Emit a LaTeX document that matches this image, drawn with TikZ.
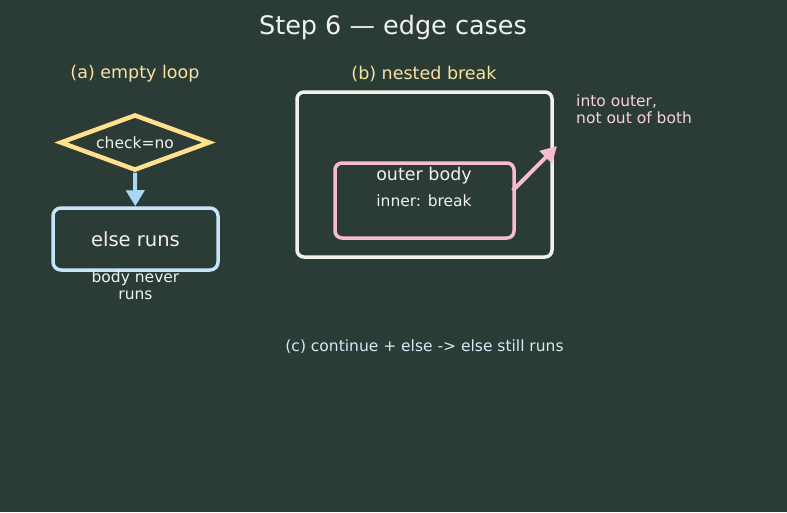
\documentclass[tikz,border=0pt]{standalone}
\usepackage{fontspec}
\setmainfont{DejaVu Sans}
\usetikzlibrary{arrows.meta,positioning,shapes.geometric}
\definecolor{boardbg}{HTML}{2B3B35}
\definecolor{inkwhite}{HTML}{F2F2EC}
\definecolor{paneltxt}{HTML}{F7E4A2}
\definecolor{condyel}{HTML}{FFE08C}
\definecolor{elseblue}{HTML}{C6E4FA}
\definecolor{arrowblue}{HTML}{A9D8F5}
\definecolor{loopwhite}{HTML}{F2F2EA}
\definecolor{breakpink}{HTML}{F8BCD0}
\definecolor{notepink}{HTML}{F5D3DC}
\definecolor{capblue}{HTML}{D8EAF4}
\tikzset{>=Latex}
\tikzset{
  heading/.style={text=inkwhite, font=\fontsize{25.5}{30}\selectfont},
  panel/.style={text=paneltxt, font=\fontsize{17.5}{21}\selectfont},
  cond/.style={diamond, aspect=2.6, draw=condyel, line width=4.5pt, minimum width=150pt,
    minimum height=56pt, inner sep=0pt, text=inkwhite, font=\fontsize{15.5}{18}\selectfont},
  elsebox/.style={rounded corners=8pt, draw=elseblue, line width=3.5pt, minimum width=165pt,
    minimum height=62pt, text=inkwhite, font=\fontsize{19.5}{23}\selectfont},
  loopbox/.style={rounded corners=7pt, draw=loopwhite, line width=3.5pt, minimum width=255pt,
    minimum height=165pt},
  bodybox/.style={rounded corners=7pt, draw=breakpink, line width=3.5pt, minimum width=179pt,
    minimum height=75pt},
  small/.style={text=inkwhite, font=\fontsize{15.5}{17}\selectfont, align=center, inner sep=0pt},
  note/.style={text=notepink, font=\fontsize{15.5}{17}\selectfont, align=left, inner sep=0pt},
  flow/.style={-{Triangle[length=16pt,width=18pt]}, line width=4pt, draw=arrowblue},
  jump/.style={-{Triangle[length=16pt,width=17pt]}, line width=4pt, draw=breakpink},
}
\begin{document}
\begin{tikzpicture}[x=1pt, y=-1pt]
\fill[boardbg] (0,0) rectangle (787,512);
\node[heading] (title) at (393,27) {Step 6 — edge cases};

% (a) empty loop
\node[panel] (pa) at (135,74) {(a) empty loop};
\node[cond] (chk) at (135,142.5) {check=no};
\node[elsebox] (els) at (135.5,239) {else runs};
\node[small] (never) at (135.5,285.5) {body never\\runs};
\draw[flow] (chk) -- (els);

% (b) nested break
\node[panel] (pb) at (424,74) {(b) nested break};
\node[loopbox] (outer) at (424.5,174.5) {};
\node[bodybox] (brk) at (424.5,200.5) {};
\node[text=inkwhite, font=\fontsize{17.5}{21}\selectfont] (obody) at (424,176) {outer body};
\node[small] (inbrk) at (424,201) {inner: break};
\coordinate (into) at (557,146);
\draw[jump] ([xshift=-3pt,yshift=10pt]brk.east) -- (into);
\node[note, anchor=north west] (why) at (576,95) {into outer,\\not out of both};

% (c)
\node[small, text=capblue] (pc) at (424.5,346.5) {(c) continue + else -> else still runs};
\end{tikzpicture}
\end{document}
